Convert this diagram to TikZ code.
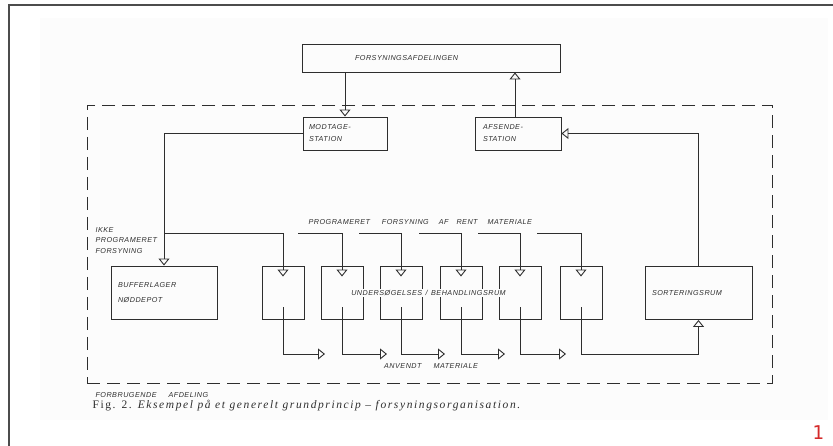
\documentclass[tikz,border=0pt]{standalone}
\usepackage{fontspec}
\usepackage{tikz}
\usetikzlibrary{positioning, calc, arrows.meta}
\newfontfamily\lettering[LetterSpace=7]{Liberation Sans}
\newfontfamily\captionfont[LetterSpace=14]{Liberation Serif}
\newfontfamily\pagefont{DejaVu Sans Mono}
\definecolor{ink}{HTML}{2E2E2E}
\definecolor{paper}{HTML}{FCFCFC}
\definecolor{pagered}{HTML}{D42A2A}

\begin{document}
\begin{tikzpicture}[x=1pt, y=-1pt,
  every node/.style={font=\lettering\itshape\fontsize{7.2}{10.5}\selectfont, text=ink},
  rum/.style={draw=ink, line width=0.9pt, inner sep=0pt, minimum width=42pt, minimum height=53pt},
  arr/.style={draw=ink, line width=0.9pt, -{Triangle[open, width=11pt, length=7pt, line width=0.9pt]}}]

\useasboundingbox (0,0) rectangle (833,446);

% scanned page: light paper and the edge of the sheet
\fill[paper] (40,18) rectangle (828,420);
\draw[black!70, line width=1.4pt] (9,446) -- (9,5) -- (833,5);

% consuming department
\node[draw=ink, line width=0.9pt, dash pattern=on 13pt off 7pt, minimum width=685pt, minimum height=278pt] (forbrug) at (429.5,244) {};

\node[rum, minimum height=28pt, inner xsep=53pt, text width=152pt, align=left] (forsyn) at (431,58) {FORSYNINGSAFDELINGEN};

\node[rum, minimum height=33pt, inner xsep=6pt, text width=72pt, align=left] (modtage) at (345,133.5) {MODTAGE-\\[1.5pt]STATION};
\node[rum, minimum height=33pt, inner xsep=8pt, text width=70pt, align=left] (afsende) at (518,133.5) {AFSENDE-\\[1.5pt]STATION};

\node[rum, inner xsep=7pt, text width=92pt, align=left] (buffer) at (164,292.5) {BUFFERLAGER\\[5pt]NØDDEPOT};

\node[rum] (b1) at (283,292.5) {};
\node[rum] (b2) at (342,292.5) {};
\node[rum] (b3) at (401,292.5) {};
\node[rum] (b4) at (461,292.5) {};
\node[rum] (b5) at (520,292.5) {};
\node[rum] (b6) at (581,292.5) {};

\node[rum, inner xsep=7pt, text width=93pt, align=left] (sort) at (698.5,293) {SORTERINGSRUM};

\node[fill=paper, inner xsep=1pt, inner ysep=1.5pt] (behandl) at (428.5,293) {UNDERSØGELSES\hspace{1pt} / \hspace{1pt}BEHANDLINGSRUM};

% labels
\node[anchor=north west, align=left] (ikke) at (92,224) {IKKE\\PROGRAMERET\\FORSYNING};
\node[anchor=west] (prog) at (305,222) {PROGRAMERET\hspace{12pt}FORSYNING\hspace{10pt}AF\hspace{8pt}RENT\hspace{10pt}MATERIALE};
\node (anvendt) at (431,366) {ANVENDT\hspace{12pt}MATERIALE};
\node[anchor=west] (afdeling) at (92,395) {FORBRUGENDE\hspace{12pt}AFDELING};
\node[anchor=west, font=\captionfont\fontsize{11.5}{13}\selectfont] (caption) at (89,406)
  {Fig. 2. \textit{Eksempel på et generelt grundprincip – forsyningsorganisation.}};
\node[font=\pagefont\fontsize{19}{20}\selectfont, text=pagered] (side) at (818,433) {1};

% free ends
\coordinate (in2) at (298,233);
\coordinate (in3) at (359,233);
\coordinate (in4) at (419,233);
\coordinate (in5) at (478,233);
\coordinate (in6) at (537,233);
\coordinate (split) at (buffer.north |- in2);

\coordinate (out1) at (325,354);
\coordinate (out2) at (387,354);
\coordinate (out3) at (445,354);
\coordinate (out4) at (505,354);
\coordinate (out5) at (566,354);
\coordinate (turn) at (sort.south |- out5);

% supply department <-> stations
\draw[arr] (forsyn.south -| modtage.north) -- (modtage.north);
\draw[arr] ([xshift=-3pt]afsende.north) -- ([xshift=-3pt]afsende.north |- forsyn.south);

% unprogrammed supply
\draw[arr] (modtage.west) -| (buffer.north);
\draw[arr] (split) -| ([yshift=-11pt]b1.north);

% programmed supply of clean material
\draw[arr] (in2) -| ([yshift=-11pt]b2.north);
\draw[arr] (in3) -| ([yshift=-11pt]b3.north);
\draw[arr] (in4) -| ([yshift=-11pt]b4.north);
\draw[arr] (in5) -| ([yshift=-11pt]b5.north);
\draw[arr] (in6) -| ([yshift=-11pt]b6.north);

% used material
\draw[arr] ([yshift=12pt]b1.south) |- (out1);
\draw[arr] ([yshift=12pt]b2.south) |- (out2);
\draw[arr] ([yshift=12pt]b3.south) |- (out3);
\draw[arr] ([yshift=12pt]b4.south) |- (out4);
\draw[arr] ([yshift=12pt]b5.south) |- (out5);
\draw[arr] ([yshift=12pt]b6.south) |- (turn) -- (sort.south);

% back to the sending station
\draw[arr] (sort.north) |- (afsende.east);

\end{tikzpicture}
\end{document}
